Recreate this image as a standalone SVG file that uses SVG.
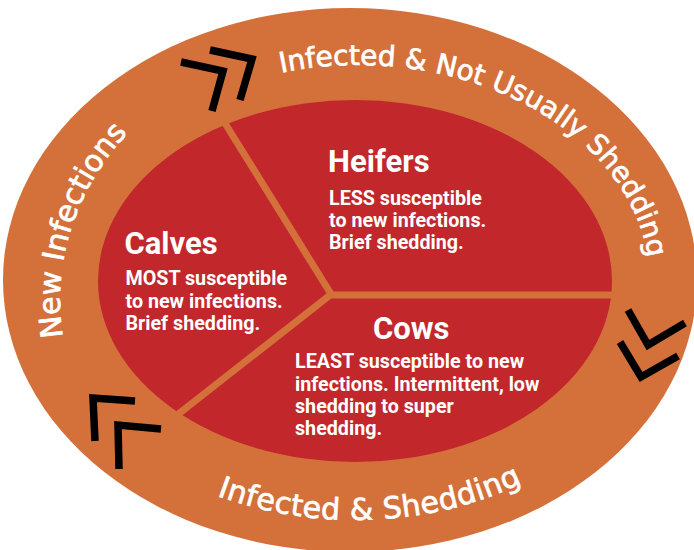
<svg xmlns="http://www.w3.org/2000/svg" xmlns:xlink="http://www.w3.org/1999/xlink" width="694" height="550" viewBox="0 0 694 550">
  <style>
    .band { fill: #D4713B; }
    .core { fill: #C1272B; }
    .divider { stroke: #D4713B; stroke-width: 7; fill: none; stroke-linecap: butt; }
    .chev { stroke: #000000; stroke-width: 7.5; fill: none; stroke-linejoin: miter; stroke-miterlimit: 10; }
    .ring { font-family: "DejaVu Sans", "Liberation Sans", sans-serif; fill: #FFFFFF; stroke: #FFFFFF; stroke-width: 0.7px; }
    .head { font-family: Roboto, "Liberation Sans", sans-serif; font-weight: 700; font-size: 31px; fill: #FFFFFF; }
    .body { font-family: Roboto, "Liberation Sans", sans-serif; font-weight: 700; font-size: 19.7px; fill: #FFFFFF; }
  </style>
  <defs>
    <path id="arcTop" d="M281,72.7 A292,218 0 0 1 632.4,357.6"/>
    <path id="arcLeft" d="M63,337 A292,260 0 0 1 165.4,100"/>
    <path id="arcBottom" d="M217,495.7 A314,239 0 0 0 556.8,464"/>
  </defs>

  <g id="outer-ring">
    <ellipse class="band" cx="350" cy="280" rx="347" ry="272"/>
  </g>

  <g id="inner-core">
    <ellipse class="core" cx="355" cy="281" rx="257" ry="181"/>
  </g>

  <g id="connectors">
    <line class="divider" x1="331" y1="294" x2="218" y2="112"/>
    <line class="divider" x1="328" y1="295" x2="620" y2="295"/>
    <line class="divider" x1="334" y1="292" x2="172" y2="419"/>
    <polyline class="chev" points="181,62 223,71 212,111"/>
    <polyline class="chev" points="210,50 252,59 240,100"/>
    <polyline class="chev" points="628,310 648,345 685,323"/>
    <polyline class="chev" points="620,342 641,377 678,356"/>
    <polyline class="chev" points="135,401 93,398 95,441"/>
    <polyline class="chev" points="161,429 118,425 119,469"/>
  </g>

  <g id="label-new-infections">
    <text class="ring" font-size="30"><textPath xlink:href="#arcLeft" href="#arcLeft">New Infections</textPath></text>
  </g>
  <g id="label-infected-not-shedding">
    <text class="ring" font-size="28"><textPath xlink:href="#arcTop" href="#arcTop">Infected &amp; Not Usually Shedding</textPath></text>
  </g>
  <g id="label-infected-shedding">
    <text class="ring" font-size="30" letter-spacing="0.4"><textPath xlink:href="#arcBottom" href="#arcBottom">Infected &amp; Shedding</textPath></text>
  </g>

  <g id="node-heifers">
    <text class="head" x="328" y="172">Heifers</text>
    <text class="body" x="329" y="204.5">LESS susceptible</text>
    <text class="body" x="329" y="226.5">to new infections.</text>
    <text class="body" x="329" y="248.5">Brief shedding.</text>
  </g>

  <g id="node-calves">
    <text class="head" x="124.5" y="254">Calves</text>
    <text class="body" x="125.5" y="285">MOST susceptible</text>
    <text class="body" x="125.5" y="307.5">to new infections.</text>
    <text class="body" x="125.5" y="330">Brief shedding.</text>
  </g>

  <g id="node-cows">
    <text class="head" x="373" y="339">Cows</text>
    <text class="body" x="295" y="368">LEAST susceptible to new</text>
    <text class="body" x="295" y="390.5">infections. Intermittent, low</text>
    <text class="body" x="295" y="413">shedding to super</text>
    <text class="body" x="295" y="435">shedding.</text>
  </g>
</svg>
